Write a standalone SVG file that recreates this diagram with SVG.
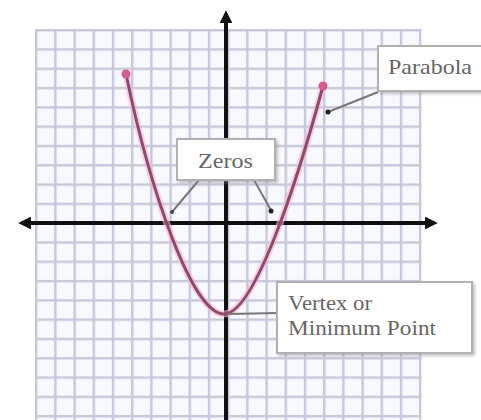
<svg xmlns="http://www.w3.org/2000/svg" width="481" height="420" viewBox="0 0 481 420">
<defs>
<pattern id="grid" x="35" y="29" width="19.2" height="19.3" patternUnits="userSpaceOnUse">
<rect width="19.2" height="19.3" fill="#f8f8ff"/>
<rect x="0" y="0" width="2.4" height="19.3" fill="#c6c6e0"/>
<rect x="0" y="0" width="19.2" height="2.4" fill="#c8c8da"/>
</pattern>
<marker id="ah" viewBox="0 0 10 10" refX="7" refY="5" markerWidth="3.2" markerHeight="3.2" orient="auto-start-reverse">
<path d="M0 0 L10 5 L0 10 Z" fill="#111"/>
</marker>
<filter id="sh" x="-10%" y="-10%" width="130%" height="140%">
<feDropShadow dx="2" dy="2" stdDeviation="1.5" flood-color="#888" flood-opacity="0.5"/>
</filter>
</defs>
<style>
.box{fill:#fff;stroke:#b0b0b0;stroke-width:2;filter:url(#sh)}
.lbl{font-family:"Liberation Serif","Times New Roman",serif;font-size:21px;fill:#666}
.lead{stroke:#777;stroke-width:2;fill:none}
.axis{stroke:#111;stroke-width:4;fill:none}
</style>
<rect width="481" height="420" fill="#fff"/>
<g id="grid-area">
<rect x="35" y="29" width="386.6" height="391" fill="url(#grid)"/>
</g>
<g id="axes">
<line class="axis" x1="22" y1="223" x2="434" y2="223" marker-start="url(#ah)" marker-end="url(#ah)"/>
<line class="axis" x1="226" y1="420" x2="226" y2="14" marker-end="url(#ah)"/>
</g>
<g id="parabola">
<path d="M126 74 C150 190 192 314 224 314 C254 314 296 186 323 86" fill="none" stroke="#f6b6d2" stroke-width="7" opacity="0.6"/>
<path d="M126 74 C150 190 192 314 224 314 C254 314 296 186 323 86" fill="none" stroke="#8e4a6c" stroke-width="3"/>
<circle cx="126" cy="74" r="4.5" fill="#d85a8e"/>
<circle cx="323" cy="86" r="4.5" fill="#d85a8e"/>
</g>
<g id="connectors">
<line class="lead" x1="199" y1="180" x2="172" y2="212"/>
<line class="lead" x1="254" y1="180" x2="272" y2="212"/>
<line class="lead" x1="378" y1="92" x2="328" y2="112"/>
<line class="lead" x1="277" y1="313" x2="228" y2="314"/>
<circle cx="328" cy="112" r="2.5" fill="#222"/>
<circle cx="271" cy="211" r="2.5" fill="#222"/>
<circle cx="172" cy="212" r="2" fill="#444"/>
</g>
<g id="zeros">
<rect class="box" x="177" y="139" width="98" height="41"/>
<text class="lbl" x="198" y="168" textLength="55" lengthAdjust="spacingAndGlyphs">Zeros</text>
</g>
<g id="parabola-label">
<rect class="box" x="378" y="46" width="110" height="45"/>
<text class="lbl" x="388" y="74" textLength="84" lengthAdjust="spacingAndGlyphs">Parabola</text>
</g>
<g id="vertex-label">
<rect class="box" x="277" y="282" width="195" height="71"/>
<text class="lbl" x="288" y="310" textLength="84" lengthAdjust="spacingAndGlyphs">Vertex or</text>
<text class="lbl" x="288" y="335" textLength="148" lengthAdjust="spacingAndGlyphs">Minimum Point</text>
</g>
</svg>
